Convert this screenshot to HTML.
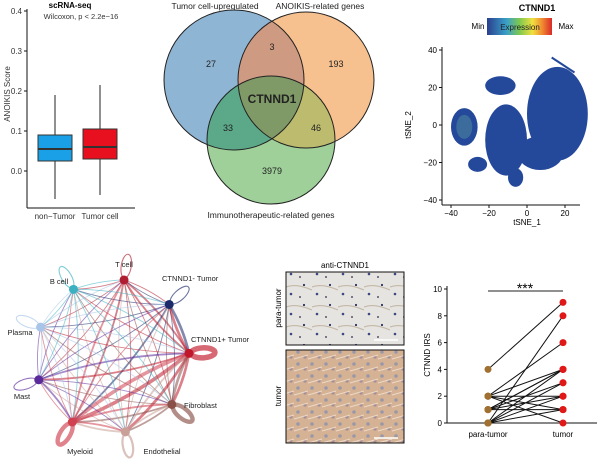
<!DOCTYPE html>
<html><head><meta charset="utf-8"><style>
body{margin:0;background:#fff;}
svg{display:block;font-family:"Liberation Sans",Arial,sans-serif;}
</style></head><body>
<svg id="fig" width="600" height="462" viewBox="0 0 600 462">
<defs>
<clipPath id="cB"><circle cx="234" cy="80" r="70"/></clipPath>
<clipPath id="cO"><circle cx="306" cy="80" r="68"/></clipPath>
<clipPath id="cG"><circle cx="271" cy="140" r="64"/></clipPath>
<linearGradient id="expr" x1="0" x2="1">
<stop offset="0" stop-color="#2a3f8f"/><stop offset="0.3" stop-color="#3aa0c8"/><stop offset="0.5" stop-color="#7ec850"/><stop offset="0.7" stop-color="#f0e040"/><stop offset="0.85" stop-color="#f08a30"/><stop offset="1" stop-color="#d82a2a"/>
</linearGradient>
<pattern id="paraTex" width="26" height="20" patternUnits="userSpaceOnUse">
<rect width="26" height="20" fill="#e6e4e0"/><path d="M0 7 Q10 3 26 10" stroke="#c4b8a8" stroke-width="1.2" fill="none"/><circle cx="5" cy="14" r="1.3" fill="#3a4a80"/><circle cx="18" cy="5" r="1.1" fill="#2a3060"/><circle cx="14" cy="17" r="1" fill="#5a5070"/>
</pattern>
<pattern id="tumTex" width="14" height="12" patternUnits="userSpaceOnUse">
<rect width="14" height="12" fill="#d6b294"/><circle cx="4" cy="4" r="1.8" fill="#9a98a8"/><circle cx="11" cy="9" r="1.6" fill="#a48e98"/><path d="M0 11 L14 7" stroke="#ecdac8" stroke-width="1"/>
</pattern>
</defs>

<g id="boxplot"></g>

<g>
<circle cx="234" cy="80" r="70" fill="#8fb5d5"/>
<circle cx="306" cy="80" r="68" fill="#f6c08f"/>
<circle cx="271" cy="140" r="64" fill="#9fd09a"/>
<circle cx="306" cy="80" r="68" fill="#cf9a82" clip-path="url(#cB)"/>
<circle cx="271" cy="140" r="64" fill="#5ca98a" clip-path="url(#cB)"/>
<circle cx="271" cy="140" r="64" fill="#bcbb6e" clip-path="url(#cO)"/>
<g clip-path="url(#cB)"><circle cx="271" cy="140" r="64" fill="#7f9967" clip-path="url(#cO)"/></g>
<g fill="none" stroke="#222" stroke-width="1">
<circle cx="234" cy="80" r="70"/><circle cx="306" cy="80" r="68"/><circle cx="271" cy="140" r="64"/></g>
<g font-size="9" fill="#222" text-anchor="middle">
<text x="215" y="9" font-size="8.5">Tumor cell-upregulated</text>
<text x="320" y="9" font-size="8.5">ANOIKIS-related genes</text>
<text x="271" y="218" font-size="8.5">Immunotherapeutic-related genes</text>
<text x="211" y="67">27</text><text x="272" y="50">3</text><text x="336" y="67">193</text>
<text x="228" y="131">33</text><text x="316" y="131">46</text><text x="272" y="174">3979</text>
<text x="272" y="103" font-size="12" font-weight="bold">CTNND1</text>
</g></g>

<g id="tsne">
<text x="537" y="11" font-size="9" font-weight="bold" text-anchor="middle">CTNND1</text>
<text x="478" y="29" font-size="8" text-anchor="middle">Min</text>
<rect x="487" y="18" width="65" height="17" fill="url(#expr)"/>
<text x="520" y="30" font-size="8" text-anchor="middle" fill="#222">Expression</text>
<text x="566" y="29" font-size="8" text-anchor="middle">Max</text>
</g>

<g id="network"></g>

<g>
<text x="345" y="268" font-size="8" text-anchor="middle">anti-CTNND1</text>
<rect x="286" y="272" width="118" height="73" fill="url(#paraTex)" stroke="#111" stroke-width="1"/>
<rect x="286" y="350" width="118" height="93" fill="url(#tumTex)" stroke="#111" stroke-width="1"/>
<text transform="translate(281,308) rotate(-90)" font-size="8" text-anchor="middle">para-tumor</text>
<text transform="translate(281,396) rotate(-90)" font-size="8" text-anchor="middle">tumor</text>
<line x1="374" y1="340" x2="398" y2="340" stroke="#fff" stroke-width="1.5"/>
<line x1="374" y1="438" x2="398" y2="438" stroke="#fff" stroke-width="1.5"/>
</g>

<g id="paired"></g>
</svg>
<script>
const NS="http://www.w3.org/2000/svg";
function mk(p,tag,at,txt){const e=document.createElementNS(NS,tag);for(const k in at)e.setAttribute(k,at[k]);if(txt!=null)e.textContent=txt;p.appendChild(e);return e;}

const boxGroups=["non-Tumor","Tumor cell"];
const boxMin=[-0.07,-0.06];
const boxQ1=[0.025,0.03];
const boxMed=[0.055,0.06];
const boxQ3=[0.09,0.105];
const boxMax=[0.19,0.215];
const boxColors=["#1aa0e6","#e8101e"];
const boxTicks=[0.0,0.1,0.2,0.3,0.4];
(function(){
const g=document.getElementById('boxplot');
const y=v=>171-v*400; const cx=i=>55+i*45;
mk(g,'line',{x1:27,y1:9,x2:27,y2:208,stroke:'#111'});
mk(g,'line',{x1:27,y1:208,x2:135,y2:208,stroke:'#111'});
boxTicks.forEach(t=>{mk(g,'line',{x1:24,y1:y(t),x2:27,y2:y(t),stroke:'#111'});
 mk(g,'text',{x:22,y:y(t)+3,'font-size':8,'text-anchor':'end',fill:'#333'},t.toFixed(1));});
mk(g,'text',{x:70,y:8,'font-size':8,'font-weight':'bold','text-anchor':'middle'},'scRNA-seq');
mk(g,'text',{x:81,y:19,'font-size':7.5,'text-anchor':'middle',fill:'#333'},'Wilcoxon, p < 2.2e\u221216');
mk(g,'text',{transform:'translate(10,94) rotate(-90)','font-size':8,'text-anchor':'middle',fill:'#333'},'ANOIKIS Score');
boxGroups.forEach((n,i)=>{
 const c=cx(i);
 const b=mk(g,'g',{});
 
 
 mk(b,'line',{x1:c,y1:y(boxMin[i]),x2:c,y2:y(boxMax[i]),stroke:'#222'});
 mk(b,'rect',{x:c-17,y:y(boxQ3[i]),width:34,height:y(boxQ1[i])-y(boxQ3[i]),fill:boxColors[i],stroke:'#333'});
 mk(b,'line',{x1:c-17,y1:y(boxMed[i]),x2:c+17,y2:y(boxMed[i]),stroke:'#333','stroke-width':2});
 mk(g,'text',{x:c,y:219,'font-size':8,'text-anchor':'middle',fill:'#333'},n.replace('-','\u2212'));
});
})();

const tsneXTicks=[-40,-20,0,20];
const tsneYTicks=[40,20,0,-20,-40];
const clusterX=[16,7,-11,-14,-33,-26,-6];
const clusterY=[6,-15,-8,21,-1,-21,-28];
const clusterRX=[16,12,11,8,7,5,4];
const clusterRY=[25,9,19,5,10,4,5];
(function(){
const g=document.getElementById('tsne');
const x=v=>527+v*1.9, y=v=>125-v*1.875;
mk(g,'line',{x1:442,y1:47,x2:442,y2:205,stroke:'#111'});
mk(g,'line',{x1:442,y1:205,x2:580,y2:205,stroke:'#111'});
tsneXTicks.forEach(t=>{mk(g,'line',{x1:x(t),y1:205,x2:x(t),y2:208,stroke:'#111'});
 mk(g,'text',{x:x(t),y:216,'font-size':8,'text-anchor':'middle'},String(t).replace('-','\u2212'));});
tsneYTicks.forEach(t=>{mk(g,'line',{x1:439,y1:y(t),x2:442,y2:y(t),stroke:'#111'});
 mk(g,'text',{x:437,y:y(t)+3,'font-size':8,'text-anchor':'end'},String(t).replace('-','\u2212'));});
mk(g,'text',{x:527,y:225,'font-size':8,'text-anchor':'middle'},'tSNE_1');
mk(g,'text',{transform:'translate(411,125) rotate(-90)','font-size':8,'text-anchor':'middle'},'tSNE_2');
clusterX.forEach((cx,i)=>{
 const e=mk(g,'ellipse',{cx:x(cx),cy:y(clusterY[i]),rx:clusterRX[i]*1.9,ry:clusterRY[i]*1.875,fill:'#24489a'});
 
 
});
mk(g,'ellipse',{cx:x(-33),cy:y(-1),rx:8,ry:12,fill:'#5a98a0',opacity:0.45});
mk(g,'line',{x1:x(13),y1:y(36),x2:x(25),y2:y(28),stroke:'#24489a','stroke-width':2});
})();

const cellTypes=["T cell","CTNND1- Tumor","CTNND1+ Tumor","Fibroblast","Endothelial","Myeloid","Mast","Plasma","B cell"];
const nodeAngles=[-81,-42,-2,39,80,121,162,202,240];
const nodeColors=["#b01c30","#1a2a6a","#c0182a","#8a5048","#c8a098","#d04050","#5a2a9a","#a8c4e8","#3ab0c0"];
const edgeWeights=[
[1,1,2,1,1,2,1,1,1],
[1,1,3,1,1,2,1,1,1],
[2,3,5,3,3,4,2,1,1],
[1,1,3,4,2,2,1,1,1],
[1,1,2,2,2,2,1,1,1],
[2,1,4,2,2,4,1,1,1],
[1,1,2,1,1,2,1,1,1],
[1,1,1,1,1,1,1,1,1],
[1,1,1,1,1,1,1,1,1]];
(function(){
const g=document.getElementById('network');
const cx=112,cy=356,r=77;
const pos=nodeAngles.map(a=>[cx+r*Math.cos(a*Math.PI/180),cy+r*Math.sin(a*Math.PI/180)]);
for(let i=0;i<cellTypes.length;i++)for(let j=0;j<cellTypes.length;j++){
 if(i===j)continue;
 const [x1,y1]=pos[i],[x2,y2]=pos[j];
 const mx=(x1+x2)/2+(y2-y1)*0.08,my=(y1+y2)/2-(x2-x1)*0.08;
 const e=mk(g,'path',{d:`M${x1},${y1} Q${mx},${my} ${x2},${y2}`,fill:'none',stroke:nodeColors[i],'stroke-width':edgeWeights[i][j]*0.9,opacity:0.55});
 
 
}
cellTypes.forEach((n,i)=>{
 const [x,y]=pos[i];const a=nodeAngles[i]*Math.PI/180;
 const lx=x+Math.cos(a)*14,ly=y+Math.sin(a)*14;
 mk(g,'ellipse',{cx:lx,cy:ly,rx:12,ry:5,transform:`rotate(${nodeAngles[i]} ${lx} ${ly})`,fill:'none',stroke:nodeColors[i],'stroke-width':Math.max(0.7,edgeWeights[i][i]*1.1),opacity:0.65});
 const c=mk(g,'circle',{cx:x,cy:y,r:4.5,fill:nodeColors[i]});
 
 
});
const labels=[[124,267,'middle'],[162,281,'start'],[191,342,'start'],[184,408,'start'],[162,454,'middle'],[80,454,'middle'],[22,399,'middle'],[20,335,'middle'],[59,284,'middle']];
cellTypes.forEach((n,i)=>mk(g,'text',{x:labels[i][0],y:labels[i][1],'font-size':7.5,'text-anchor':labels[i][2],fill:'#222'},n));
})();

const pairCats=["para-tumor","tumor"];
const paraVals=[4,0,2,2,1,0,0,1,2,1,0,2,1,0,2,1];
const tumorVals=[9,8,6,4,4,4,3,3,2,2,2,1,1,1,0,4];
const irsTicks=[0,2,4,6,8,10];
(function(){
const g=document.getElementById('paired');
const y=v=>423-v*13.4; const x=i=>488+i*75;
mk(g,'line',{x1:447,y1:286,x2:447,y2:423,stroke:'#111'});
mk(g,'line',{x1:447,y1:423,x2:597,y2:423,stroke:'#111'});
irsTicks.forEach(t=>{mk(g,'line',{x1:444,y1:y(t),x2:447,y2:y(t),stroke:'#111'});
 mk(g,'text',{x:442,y:y(t)+3,'font-size':8,'text-anchor':'end'},t);});
pairCats.forEach((c,i)=>mk(g,'text',{x:x(i),y:437,'font-size':8,'text-anchor':'middle'},c));
mk(g,'text',{transform:'translate(430,355) rotate(-90)','font-size':8,'text-anchor':'middle'},'CTNND IRS');
mk(g,'line',{x1:488,y1:291,x2:563,y2:291,stroke:'#222'});
mk(g,'text',{x:525,y:293,'font-size':14,'text-anchor':'middle'},'***');
paraVals.forEach((p,k)=>{const l=mk(g,'line',{x1:x(0),y1:y(p),x2:x(1),y2:y(tumorVals[k]),stroke:'#111','stroke-width':1});
 
 });
paraVals.forEach(p=>{const c=mk(g,'circle',{cx:x(0),cy:y(p),r:3.5,fill:'#a07030'});
 
 });
tumorVals.forEach(t=>{const c=mk(g,'circle',{cx:x(1),cy:y(t),r:3.5,fill:'#e01818'});
 
 });
})();
</script>
</body></html>
